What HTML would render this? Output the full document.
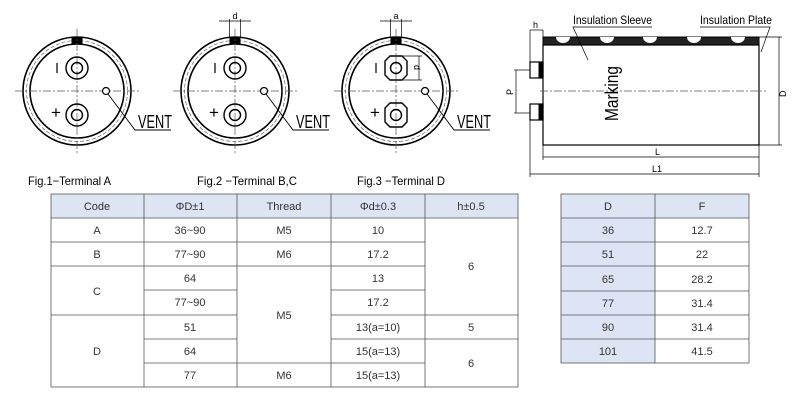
<!DOCTYPE html>
<html><head><meta charset="utf-8"><style>
body{margin:0;background:#fff;width:800px;height:400px;overflow:hidden}
svg{display:block}
text{font-family:"Liberation Sans",sans-serif;}
</style></head><body>
<svg width="800" height="400" viewBox="0 0 800 400" xmlns="http://www.w3.org/2000/svg">
<defs>
<g id="disc">
  <circle cx="0" cy="0" r="54" fill="none" stroke="#000" stroke-width="1.6"/>
  <circle cx="0" cy="0" r="50.5" fill="none" stroke="#666" stroke-width="0.7" stroke-dasharray="4,2"/>
  <circle cx="0" cy="0" r="47" fill="none" stroke="#000" stroke-width="1.6"/>
  <rect x="-5.5" y="-54" width="11" height="7.5" fill="#000"/>
  <line x1="-62" y1="0" x2="62" y2="0" stroke="#555" stroke-width="0.7" stroke-dasharray="8,2,2,2"/>
  <line x1="0" y1="-62" x2="0" y2="62" stroke="#555" stroke-width="0.7" stroke-dasharray="8,2,2,2"/>
  <circle cx="29" cy="0" r="3.5" fill="#fff" stroke="#000" stroke-width="1.2"/>
  <polyline points="31,3 58,39 94,39" fill="none" stroke="#000" stroke-width="0.9"/>
  <text x="61" y="37" font-size="18" textLength="34" lengthAdjust="spacingAndGlyphs">VENT</text>
  <line x1="-20" y1="-28" x2="-20" y2="-18" stroke="#000" stroke-width="1.2"/>
  <text x="-26" y="27" font-size="17">+</text>
</g>
</defs>
<!-- Fig1 -->
<g transform="translate(77,91)">
  <use href="#disc"/>
  <circle cx="0" cy="-23" r="11" fill="none" stroke="#000" stroke-width="1.4"/>
  <circle cx="0" cy="-23" r="5.5" fill="none" stroke="#000" stroke-width="1.4"/>
  <circle cx="0" cy="24" r="11" fill="none" stroke="#000" stroke-width="1.4"/>
  <circle cx="0" cy="24" r="5.5" fill="none" stroke="#000" stroke-width="1.4"/>
</g>
<!-- Fig2 -->
<g transform="translate(235,91)">
  <use href="#disc"/>
  <circle cx="0" cy="-23" r="11" fill="none" stroke="#000" stroke-width="1.4"/>
  <circle cx="0" cy="-23" r="5.5" fill="none" stroke="#000" stroke-width="1.4"/>
  <circle cx="0" cy="24" r="11" fill="none" stroke="#000" stroke-width="1.4"/>
  <circle cx="0" cy="24" r="5.5" fill="none" stroke="#000" stroke-width="1.4"/>
  <line x1="-5.5" y1="-54" x2="-5.5" y2="-72" stroke="#000" stroke-width="0.7"/>
  <line x1="5.5" y1="-54" x2="5.5" y2="-72" stroke="#000" stroke-width="0.7"/>
  <line x1="-16" y1="-70" x2="16" y2="-70" stroke="#000" stroke-width="0.7"/>
  <text x="-2.5" y="-72" font-size="9">d</text>
</g>
<!-- Fig3 -->
<g transform="translate(396,91)">
  <use href="#disc"/>
  <polygon points="-6,-35 6,-35 11,-30 11,-16 6,-11 -6,-11 -11,-16 -11,-30" fill="none" stroke="#000" stroke-width="1.4"/>
  <circle cx="0" cy="-23" r="5.5" fill="none" stroke="#000" stroke-width="1.4"/>
  <polygon points="-6,12 6,12 11,17 11,31 6,36 -6,36 -11,31 -11,17" fill="none" stroke="#000" stroke-width="1.4"/>
  <circle cx="0" cy="24" r="5.5" fill="none" stroke="#000" stroke-width="1.4"/>
  <line x1="6" y1="-35" x2="26" y2="-35" stroke="#000" stroke-width="0.7"/>
  <line x1="6" y1="-11" x2="26" y2="-11" stroke="#000" stroke-width="0.7"/>
  <line x1="23" y1="-35" x2="23" y2="-11" stroke="#000" stroke-width="0.7"/>
  <text x="0" y="0" font-size="9" transform="translate(18,-26) rotate(90)">d</text>
  <line x1="-5.5" y1="-54" x2="-5.5" y2="-72" stroke="#000" stroke-width="0.7"/>
  <line x1="5.5" y1="-54" x2="5.5" y2="-72" stroke="#000" stroke-width="0.7"/>
  <line x1="-16" y1="-70" x2="16" y2="-70" stroke="#000" stroke-width="0.7"/>
  <text x="-2.5" y="-72" font-size="9">a</text>
</g>
<!-- captions -->
<text x="28" y="185" font-size="12" textLength="83" lengthAdjust="spacingAndGlyphs">Fig.1−Terminal A</text>
<text x="197" y="185" font-size="12" textLength="100" lengthAdjust="spacingAndGlyphs">Fig.2 −Terminal B,C</text>
<text x="357" y="185" font-size="12" textLength="88" lengthAdjust="spacingAndGlyphs">Fig.3 −Terminal D</text>

<!-- side view -->
<g stroke="#000" fill="none">
  <rect x="543" y="37" width="216" height="8" fill="#222" stroke-width="1"/>
  <g fill="#fff" stroke="none">
    <path d="M556,37 a7,6 0 0 0 14,0z"/><path d="M600,37 a7,6 0 0 0 14,0z"/><path d="M643,37 a7,6 0 0 0 14,0z"/><path d="M687,37 a7,6 0 0 0 14,0z"/><path d="M731,37 a7,6 0 0 0 14,0z"/>
  </g>
  <rect x="543" y="45" width="216" height="100" stroke-width="1.2"/>
  <rect x="530" y="62" width="13" height="16" stroke-width="1.2"/>
  <rect x="530" y="104" width="13" height="16" stroke-width="1.2"/>
  <rect x="539" y="62" width="4" height="16" fill="#000"/>
  <rect x="539" y="104" width="4" height="16" fill="#000"/>
  <line x1="540" y1="91" x2="766" y2="91" stroke="#555" stroke-width="0.7" stroke-dasharray="8,2,2,2"/>
  <line x1="514" y1="70" x2="530" y2="70" stroke-width="0.7"/>
  <line x1="514" y1="113" x2="530" y2="113" stroke-width="0.7"/>
  <line x1="516" y1="70" x2="516" y2="113" stroke-width="0.7"/>
  <line x1="759" y1="37" x2="782" y2="37" stroke-width="0.7"/>
  <line x1="759" y1="145" x2="782" y2="145" stroke-width="0.7"/>
  <line x1="779" y1="37" x2="779" y2="145" stroke-width="0.7"/>
  <line x1="543" y1="145" x2="543" y2="160" stroke-width="0.7"/>
  <line x1="759" y1="145" x2="759" y2="177" stroke-width="0.7"/>
  <line x1="530" y1="120" x2="530" y2="177" stroke-width="0.7"/>
  <line x1="543" y1="157" x2="759" y2="157" stroke-width="0.7"/>
  <line x1="530" y1="174" x2="759" y2="174" stroke-width="0.7"/>
  <line x1="530" y1="30" x2="530" y2="62" stroke-width="0.7"/>
  <line x1="543" y1="30" x2="543" y2="37" stroke-width="0.7"/>
  <line x1="530" y1="30" x2="543" y2="30" stroke-width="0.7"/>
  <polyline points="588,60 573,27 652,27" stroke-width="0.7"/>
  <polyline points="761,52 770,27 700,27" stroke-width="0.7"/>
</g>
<text x="533" y="28" font-size="9">h</text>
<text x="0" y="0" font-size="9" transform="translate(513,95) rotate(-90)">P</text>
<text x="0" y="0" font-size="9" transform="translate(786,97) rotate(-90)">D</text>
<text x="655" y="155" font-size="9">L</text>
<text x="652" y="172" font-size="9">L1</text>
<text x="573" y="24" font-size="12" textLength="79" lengthAdjust="spacingAndGlyphs">Insulation Sleeve</text>
<text x="700" y="24" font-size="12" textLength="72" lengthAdjust="spacingAndGlyphs">Insulation Plate</text>
<text x="0" y="0" font-size="18" transform="translate(618,121) rotate(-90)" textLength="55" lengthAdjust="spacingAndGlyphs">Marking</text>

<!-- Table 1 -->
<g font-size="11" fill="#333" text-anchor="middle">
<rect x="51" y="194" width="467" height="24" fill="#dde4f4"/>
<g stroke="#555" stroke-width="0.8" fill="none">
  <rect x="51" y="194" width="467" height="193"/>
  <line x1="51" y1="218" x2="518" y2="218"/>
  <line x1="144" y1="194" x2="144" y2="387"/>
  <line x1="237" y1="194" x2="237" y2="387"/>
  <line x1="331" y1="194" x2="331" y2="387"/>
  <line x1="425" y1="194" x2="425" y2="387"/>
  <line x1="51" y1="242" x2="425" y2="242"/>
  <line x1="51" y1="266" x2="425" y2="266"/>
  <line x1="144" y1="290" x2="237" y2="290"/>
  <line x1="331" y1="290" x2="425" y2="290"/>
  <line x1="51" y1="315" x2="144" y2="315"/>
  <line x1="331" y1="315" x2="518" y2="315"/>
  <line x1="144" y1="315" x2="237" y2="315"/>
  <line x1="144" y1="339" x2="237" y2="339"/>
  <line x1="331" y1="339" x2="518" y2="339"/>
  <line x1="144" y1="363" x2="425" y2="363"/>
</g>
<text x="97" y="210">Code</text><text x="190" y="210">ΦD±1</text><text x="284" y="210">Thread</text><text x="378" y="210">Φd±0.3</text><text x="471" y="210">h±0.5</text>
<text x="97" y="234">A</text><text x="190" y="234">36~90</text><text x="284" y="234">M5</text><text x="378" y="234">10</text>
<text x="97" y="258">B</text><text x="190" y="258">77~90</text><text x="284" y="258">M6</text><text x="378" y="258">17.2</text>
<text x="471" y="270">6</text>
<text x="97" y="295">C</text><text x="190" y="282">64</text><text x="378" y="282">13</text>
<text x="190" y="306">77~90</text><text x="378" y="306">17.2</text>
<text x="284" y="319">M5</text>
<text x="190" y="331">51</text><text x="378" y="331">13(a=10)</text><text x="471" y="331">5</text>
<text x="97" y="355">D</text><text x="190" y="355">64</text><text x="378" y="355">15(a=13)</text><text x="471" y="367">6</text>
<text x="190" y="379">77</text><text x="284" y="379">M6</text><text x="378" y="379">15(a=13)</text>
</g>

<!-- Table 2 -->
<g font-size="11" fill="#333" text-anchor="middle">
<rect x="561" y="194" width="188" height="24" fill="#dde4f4"/>
<rect x="561" y="218" width="94" height="145" fill="#dde4f4"/>
<g stroke="#555" stroke-width="0.8" fill="none">
  <rect x="561" y="194" width="188" height="169"/>
  <line x1="655" y1="194" x2="655" y2="363"/>
  <line x1="561" y1="218" x2="749" y2="218"/>
  <line x1="561" y1="242" x2="749" y2="242"/>
  <line x1="561" y1="266" x2="749" y2="266"/>
  <line x1="561" y1="291" x2="749" y2="291"/>
  <line x1="561" y1="315" x2="749" y2="315"/>
  <line x1="561" y1="339" x2="749" y2="339"/>
</g>
<text x="608" y="210">D</text><text x="702" y="210">F</text>
<text x="608" y="234">36</text><text x="702" y="234">12.7</text>
<text x="608" y="258">51</text><text x="702" y="258">22</text>
<text x="608" y="283">65</text><text x="702" y="283">28.2</text>
<text x="608" y="307">77</text><text x="702" y="307">31.4</text>
<text x="608" y="331">90</text><text x="702" y="331">31.4</text>
<text x="608" y="355">101</text><text x="702" y="355">41.5</text>
</g>
</svg>
</body></html>
